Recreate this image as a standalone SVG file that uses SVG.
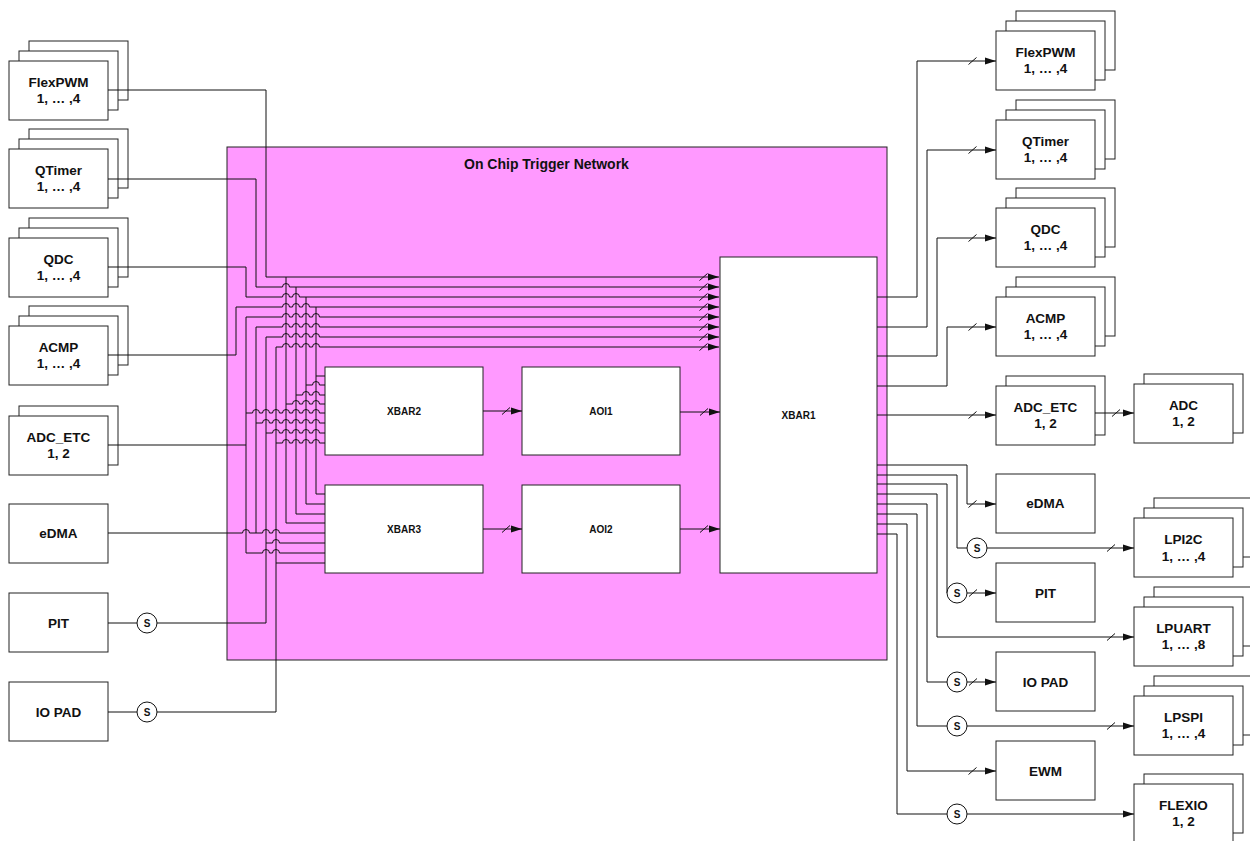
<svg xmlns="http://www.w3.org/2000/svg" width="1250" height="841" viewBox="0 0 1250 841">
<style>
.box{fill:#fff;stroke:#222;stroke-width:1}
.net{fill:#FF99FF;stroke:#222;stroke-width:1}
.lbl{font-family:"Liberation Sans",Arial,Helvetica,sans-serif;font-weight:bold;font-size:13.5px;text-anchor:middle;fill:#111}
.sm{font-size:10px}
.ttl{font-family:"Liberation Sans",Arial,Helvetica,sans-serif;font-weight:bold;font-size:14px;fill:#111}
.w{fill:none;stroke:#111;stroke-width:1}
.a{marker-end:url(#ah)}
.sl{fill:none;stroke:#111;stroke-width:1}
.sc{fill:#fff;stroke:#111;stroke-width:1}
</style>
<defs>
<marker id="ah" markerUnits="userSpaceOnUse" markerWidth="12" markerHeight="8" refX="11" refY="4" orient="auto">
<path d="M0,0.5L11,4L0,7.5z" fill="#111"/>
</marker>
</defs>
<rect width="1250" height="841" fill="#fff"/>

<g id="network">
<rect class="net" x="227" y="147" width="660" height="513"/>
<text class="ttl" x="464" y="169">On Chip Trigger Network</text>
</g>

<g id="xbar2"><rect class="box" x="325" y="367" width="158" height="88"/><text class="lbl sm" x="404" y="415">XBAR2</text></g>
<g id="xbar3"><rect class="box" x="325" y="485" width="158" height="88"/><text class="lbl sm" x="404" y="533">XBAR3</text></g>
<g id="aoi1"><rect class="box" x="522" y="367" width="158" height="88"/><text class="lbl sm" x="601" y="415">AOI1</text></g>
<g id="aoi2"><rect class="box" x="522" y="485" width="158" height="88"/><text class="lbl sm" x="601" y="533">AOI2</text></g>
<g id="xbar1"><rect class="box" x="720" y="257" width="157" height="316"/><text class="lbl sm" x="798.5" y="419">XBAR1</text></g>

<!-- left inputs -->
<g id="in_flexpwm"><rect class="box" x="29" y="41" width="99" height="59"/><rect class="box" x="19" y="51" width="99" height="59"/><rect class="box" x="9" y="61" width="99" height="59"/><text class="lbl" x="58.5" y="86.5">FlexPWM</text><text class="lbl" x="58.5" y="103">1, … ,4</text></g>
<g id="in_qtimer"><rect class="box" x="29" y="129" width="99" height="59"/><rect class="box" x="19" y="139" width="99" height="59"/><rect class="box" x="9" y="149" width="99" height="59"/><text class="lbl" x="58.5" y="174.5">QTimer</text><text class="lbl" x="58.5" y="191">1, … ,4</text></g>
<g id="in_qdc"><rect class="box" x="29" y="218" width="99" height="59"/><rect class="box" x="19" y="228" width="99" height="59"/><rect class="box" x="9" y="238" width="99" height="59"/><text class="lbl" x="58.5" y="263.5">QDC</text><text class="lbl" x="58.5" y="280">1, … ,4</text></g>
<g id="in_acmp"><rect class="box" x="29" y="306" width="99" height="59"/><rect class="box" x="19" y="316" width="99" height="59"/><rect class="box" x="9" y="326" width="99" height="59"/><text class="lbl" x="58.5" y="351.5">ACMP</text><text class="lbl" x="58.5" y="368">1, … ,4</text></g>
<g id="in_adc_etc"><rect class="box" x="19" y="406" width="99" height="59"/><rect class="box" x="9" y="416" width="99" height="59"/><text class="lbl" x="58.5" y="441.5">ADC_ETC</text><text class="lbl" x="58.5" y="458">1, 2</text></g>
<g id="in_edma"><rect class="box" x="9" y="504" width="99" height="59"/><text class="lbl" x="58.5" y="538">eDMA</text></g>
<g id="in_pit"><rect class="box" x="9" y="593" width="99" height="59"/><text class="lbl" x="58.5" y="627.5">PIT</text></g>
<g id="in_iopad"><rect class="box" x="9" y="682" width="99" height="59"/><text class="lbl" x="58.5" y="716.5">IO PAD</text></g>

<!-- right outputs -->
<g id="out_flexpwm"><rect class="box" x="1016" y="11" width="99" height="59"/><rect class="box" x="1006" y="21" width="99" height="59"/><rect class="box" x="996" y="31" width="99" height="59"/><text class="lbl" x="1045.5" y="56.5">FlexPWM</text><text class="lbl" x="1045.5" y="73">1, … ,4</text></g>
<g id="out_qtimer"><rect class="box" x="1016" y="100" width="99" height="59"/><rect class="box" x="1006" y="110" width="99" height="59"/><rect class="box" x="996" y="120" width="99" height="59"/><text class="lbl" x="1045.5" y="145.5">QTimer</text><text class="lbl" x="1045.5" y="162">1, … ,4</text></g>
<g id="out_qdc"><rect class="box" x="1016" y="188" width="99" height="59"/><rect class="box" x="1006" y="198" width="99" height="59"/><rect class="box" x="996" y="208" width="99" height="59"/><text class="lbl" x="1045.5" y="233.5">QDC</text><text class="lbl" x="1045.5" y="250">1, … ,4</text></g>
<g id="out_acmp"><rect class="box" x="1016" y="277" width="99" height="59"/><rect class="box" x="1006" y="287" width="99" height="59"/><rect class="box" x="996" y="297" width="99" height="59"/><text class="lbl" x="1045.5" y="322.5">ACMP</text><text class="lbl" x="1045.5" y="339">1, … ,4</text></g>
<g id="out_adc_etc"><rect class="box" x="1006" y="376" width="99" height="59"/><rect class="box" x="996" y="386" width="99" height="59"/><text class="lbl" x="1045.5" y="411.5">ADC_ETC</text><text class="lbl" x="1045.5" y="428">1, 2</text></g>
<g id="out_adc"><rect class="box" x="1144" y="374" width="99" height="59"/><rect class="box" x="1134" y="384" width="99" height="59"/><text class="lbl" x="1183.5" y="409.5">ADC</text><text class="lbl" x="1183.5" y="426">1, 2</text></g>
<g id="out_edma"><rect class="box" x="996" y="474" width="99" height="59"/><text class="lbl" x="1045.5" y="508">eDMA</text></g>
<g id="out_lpi2c"><rect class="box" x="1154" y="498" width="99" height="59"/><rect class="box" x="1144" y="508" width="99" height="59"/><rect class="box" x="1134" y="518" width="99" height="59"/><text class="lbl" x="1183.5" y="544">LPI2C</text><text class="lbl" x="1183.5" y="560.5">1, … ,4</text></g>
<g id="out_pit"><rect class="box" x="996" y="563" width="99" height="59"/><text class="lbl" x="1045.5" y="597.5">PIT</text></g>
<g id="out_lpuart"><rect class="box" x="1154" y="587" width="99" height="59"/><rect class="box" x="1144" y="597" width="99" height="59"/><rect class="box" x="1134" y="607" width="99" height="59"/><text class="lbl" x="1183.5" y="632.5">LPUART</text><text class="lbl" x="1183.5" y="649">1, … ,8</text></g>
<g id="out_iopad"><rect class="box" x="996" y="652" width="99" height="59"/><text class="lbl" x="1045.5" y="686.5">IO PAD</text></g>
<g id="out_lpspi"><rect class="box" x="1154" y="676" width="99" height="59"/><rect class="box" x="1144" y="686" width="99" height="59"/><rect class="box" x="1134" y="696" width="99" height="59"/><text class="lbl" x="1183.5" y="721.5">LPSPI</text><text class="lbl" x="1183.5" y="738">1, … ,4</text></g>
<g id="out_ewm"><rect class="box" x="996" y="741" width="99" height="59"/><text class="lbl" x="1045.5" y="775.5">EWM</text></g>
<g id="out_flexio"><rect class="box" x="1144" y="774" width="99" height="59"/><rect class="box" x="1134" y="784" width="99" height="59"/><text class="lbl" x="1183.5" y="809.5">FLEXIO</text><text class="lbl" x="1183.5" y="826">1, 2</text></g>

<g id="connectors">
<!-- into XBAR1 -->
<path class="w a" d="M108,90H266V277H719"/>
<path class="w a" d="M108,179H256V287H282.5a3.5,3.5 0 0 1 7,0H719"/>
<path class="w a" d="M108,267H246V297H282.5a3.5,3.5 0 0 1 7,0H292.5a3.5,3.5 0 0 1 7,0H719"/>
<path class="w a" d="M108,355H236V307H282.5a3.5,3.5 0 0 1 7,0H292.5a3.5,3.5 0 0 1 7,0H302.5a3.5,3.5 0 0 1 7,0H719"/>
<path class="w a" d="M108,445H246V317H282.5a3.5,3.5 0 0 1 7,0H292.5a3.5,3.5 0 0 1 7,0H302.5a3.5,3.5 0 0 1 7,0H312.5a3.5,3.5 0 0 1 7,0H719"/>
<path class="w a" d="M256,533V327H282.5a3.5,3.5 0 0 1 7,0H292.5a3.5,3.5 0 0 1 7,0H302.5a3.5,3.5 0 0 1 7,0H312.5a3.5,3.5 0 0 1 7,0H719"/>
<path class="w a" d="M157,623H266V337H282.5a3.5,3.5 0 0 1 7,0H292.5a3.5,3.5 0 0 1 7,0H302.5a3.5,3.5 0 0 1 7,0H312.5a3.5,3.5 0 0 1 7,0H719"/>
<path class="w a" d="M157,712H276V347H282.5a3.5,3.5 0 0 1 7,0H292.5a3.5,3.5 0 0 1 7,0H302.5a3.5,3.5 0 0 1 7,0H312.5a3.5,3.5 0 0 1 7,0H719"/>
<path class="w" d="M108,623H137M108,712H137"/>
<!-- taps to XBAR2 / XBAR3 -->
<path class="w" d="M286,277V523H325M296,287V514H325M306,297V504H325M316,307V494H325"/>
<path class="w" d="M316,376H325"/>
<path class="w" d="M306,385H312.5a3.5,3.5 0 0 1 7,0H325"/>
<path class="w" d="M296,395H302.5a3.5,3.5 0 0 1 7,0H312.5a3.5,3.5 0 0 1 7,0H325"/>
<path class="w" d="M286,404H292.5a3.5,3.5 0 0 1 7,0H302.5a3.5,3.5 0 0 1 7,0H312.5a3.5,3.5 0 0 1 7,0H325"/>
<path class="w" d="M246,413H252.5a3.5,3.5 0 0 1 7,0H262.5a3.5,3.5 0 0 1 7,0H272.5a3.5,3.5 0 0 1 7,0H282.5a3.5,3.5 0 0 1 7,0H292.5a3.5,3.5 0 0 1 7,0H302.5a3.5,3.5 0 0 1 7,0H312.5a3.5,3.5 0 0 1 7,0H325"/>
<path class="w" d="M256,423H262.5a3.5,3.5 0 0 1 7,0H272.5a3.5,3.5 0 0 1 7,0H282.5a3.5,3.5 0 0 1 7,0H292.5a3.5,3.5 0 0 1 7,0H302.5a3.5,3.5 0 0 1 7,0H312.5a3.5,3.5 0 0 1 7,0H325"/>
<path class="w" d="M266,433H272.5a3.5,3.5 0 0 1 7,0H282.5a3.5,3.5 0 0 1 7,0H292.5a3.5,3.5 0 0 1 7,0H302.5a3.5,3.5 0 0 1 7,0H312.5a3.5,3.5 0 0 1 7,0H325"/>
<path class="w" d="M276,443H282.5a3.5,3.5 0 0 1 7,0H292.5a3.5,3.5 0 0 1 7,0H302.5a3.5,3.5 0 0 1 7,0H312.5a3.5,3.5 0 0 1 7,0H325"/>
<path class="w" d="M108,533H242.5a3.5,3.5 0 0 1 7,0H262.5a3.5,3.5 0 0 1 7,0H272.5a3.5,3.5 0 0 1 7,0H325"/>
<path class="w" d="M266,543H272.5a3.5,3.5 0 0 1 7,0H325"/>
<path class="w" d="M246,445V553H262.5a3.5,3.5 0 0 1 7,0H272.5a3.5,3.5 0 0 1 7,0H325"/>
<path class="w" d="M276,563H325"/>
<!-- XBAR2/3 to AOI, AOI to XBAR1 -->
<path class="w a" d="M483,411H522"/>
<path class="w a" d="M483,529H522"/>
<path class="w a" d="M680,412H720"/>
<path class="w a" d="M680,529H720"/>
<!-- XBAR1 outputs -->
<path class="w a" d="M877,297H917V61H996"/>
<path class="w a" d="M877,327H927V150H996"/>
<path class="w a" d="M877,356H937V238H996"/>
<path class="w a" d="M877,386H947V327H996"/>
<path class="w a" d="M877,415H996"/>
<path class="w a" d="M1095,413H1134"/>
<path class="w a" d="M877,465H967V504H996"/>
<path class="w" d="M877,475H957V548H967"/>
<path class="w a" d="M987,548H1134"/>
<path class="w" d="M877,484H947V593"/>
<path class="w a" d="M967,593H996"/>
<path class="w a" d="M877,494H937V637H1134"/>
<path class="w" d="M877,504H927V682H947"/>
<path class="w a" d="M967,682H996"/>
<path class="w" d="M877,514H917V726H947"/>
<path class="w a" d="M967,726H1134"/>
<path class="w a" d="M877,524H907V771H996"/>
<path class="w" d="M877,534H897V814H947"/>
<path class="w a" d="M967,814H1134"/>
<!-- bus slashes -->
<path class="sl" d="M699.5,280.5l8,-7M699.5,290.5l8,-7M699.5,300.5l8,-7M699.5,310.5l8,-7M699.5,320.5l8,-7M699.5,330.5l8,-7M699.5,340.5l8,-7M699.5,350.5l8,-7M700,415.5l8,-7M700,532.5l8,-7M502,414.5l8,-7M502,532.5l8,-7M968.5,64.5l8,-7M968.5,153.5l8,-7M968.5,241.5l8,-7M968.5,330.5l8,-7M968.5,418.5l8,-7M968.5,507.5l8,-7M969,596.5l8,-7M969,685.5l8,-7M968.5,774.5l8,-7M1107,551.5l8,-7M1107,640.5l8,-7M1107,729.5l8,-7M1112,416.5l8,-7"/>
</g>

<g id="sync">
<g id="s_pit_in"><circle class="sc" cx="147" cy="623" r="10"/><text class="lbl sm" x="147" y="626.5">S</text></g>
<g id="s_iopad_in"><circle class="sc" cx="147" cy="712" r="10"/><text class="lbl sm" x="147" y="715.5">S</text></g>
<g id="s_lpi2c"><circle class="sc" cx="977" cy="548" r="10"/><text class="lbl sm" x="977" y="551.5">S</text></g>
<g id="s_pit_out"><circle class="sc" cx="957" cy="593" r="10"/><text class="lbl sm" x="957" y="596.5">S</text></g>
<g id="s_iopad_out"><circle class="sc" cx="957" cy="682" r="10"/><text class="lbl sm" x="957" y="685.5">S</text></g>
<g id="s_lpspi"><circle class="sc" cx="957" cy="726" r="10"/><text class="lbl sm" x="957" y="729.5">S</text></g>
<g id="s_flexio"><circle class="sc" cx="957" cy="814" r="10"/><text class="lbl sm" x="957" y="817.5">S</text></g>
</g>
</svg>
